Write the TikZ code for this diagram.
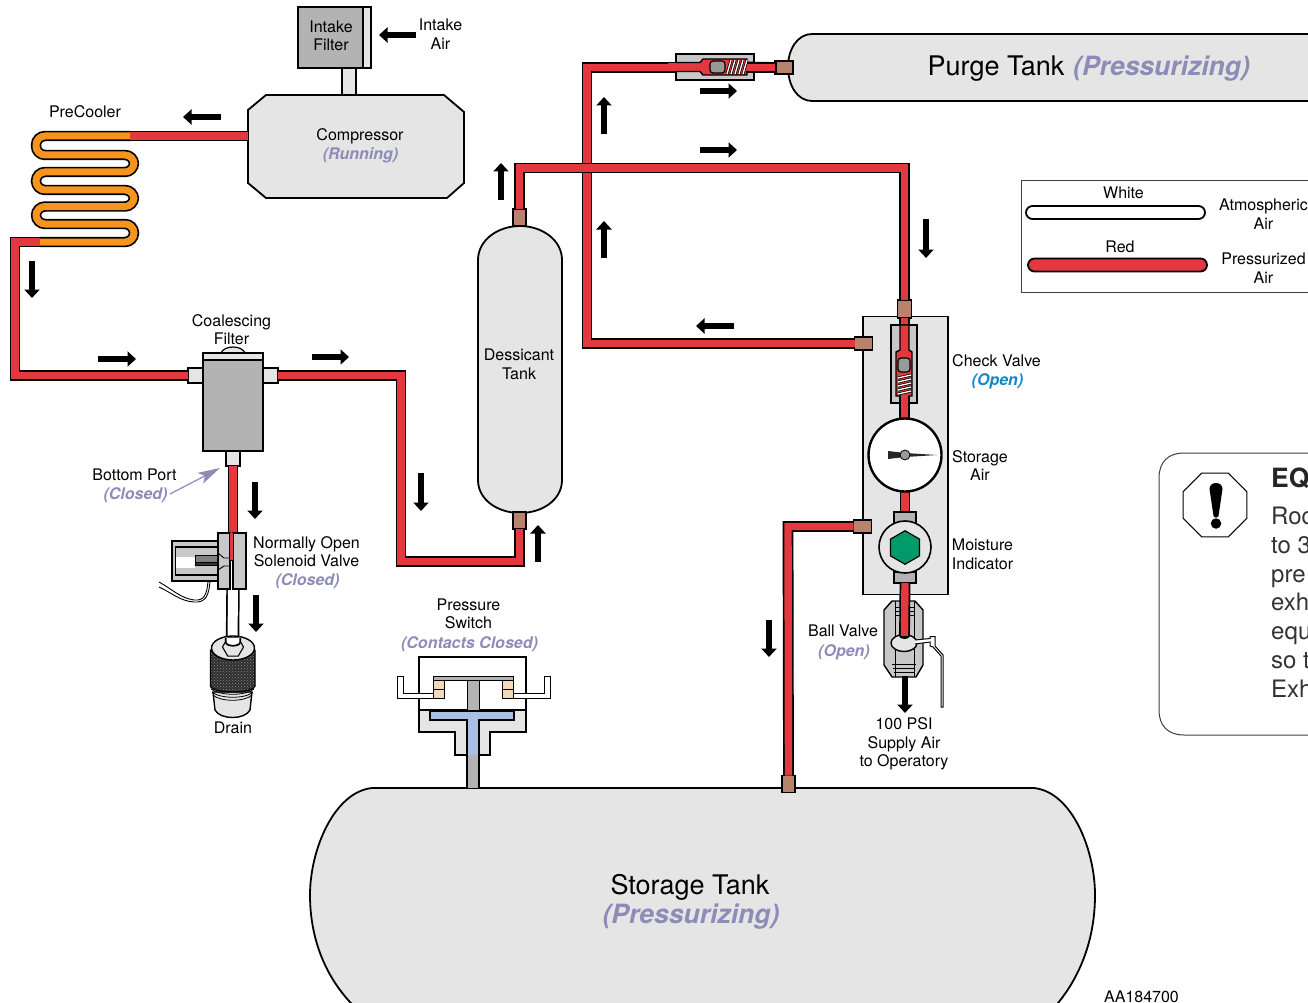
\documentclass[tikz,border=0pt]{standalone}
\usepackage{fontspec}
\setmainfont{TeX Gyre Heros}
\definecolor{PipeRed}{RGB}{228,56,64}
\definecolor{CoilOrange}{RGB}{247,148,29}
\definecolor{TankGray}{RGB}{229,229,229}
\definecolor{PartGray}{RGB}{179,179,179}
\definecolor{ValveGray}{RGB}{200,200,200}
\definecolor{FitBrown}{RGB}{184,131,108}
\definecolor{StateLav}{RGB}{141,139,184}
\definecolor{OpenBlue}{RGB}{20,135,200}
\definecolor{HexGreen}{RGB}{0,155,105}
\definecolor{SwitchBlue}{RGB}{170,192,226}
\definecolor{ContactTan}{RGB}{243,217,184}
\usetikzlibrary{
  shapes.geometric, shapes.misc,
  arrows.meta, patterns, calc
}

\begin{document}
\begin{tikzpicture}[
    x=1pt, y=-1pt,
    part/.style={rectangle, draw, line width=1.8pt, inner sep=0pt, outer sep=0pt},
    graybox/.style={part, fill=PartGray},
    lightbox/.style={part, fill=TankGray},
    fitting/.style={part, fill=FitBrown, line width=1.5pt},
    pipe/.style={draw=black, line width=1.7pt, double=PipeRed, double distance=7.4pt},
    coil/.style={draw=black, line width=1.7pt, double=CoilOrange, double distance=7pt, rounded corners=9pt},
    drainline/.style={draw=black, line width=1.7pt, double=white, double distance=10pt},
    outline/.style={draw, line width=1.8pt, line join=round},
    flowarr/.style={-{Triangle[length=8.5pt,width=15pt]}, line width=6.5pt, black},
    lbl/.style={font=\fontsize{16}{18.5}\selectfont, align=center, inner sep=0pt},
    statelbl/.style={lbl, font=\fontsize{16}{18.5}\selectfont\bfseries\itshape, text=StateLav},
    biglbl/.style={font=\fontsize{27}{30}\selectfont, inner sep=0pt},
    bigstate/.style={biglbl, font=\fontsize{26.5}{30}\selectfont\bfseries\itshape, text=StateLav},
    notelbl/.style={font=\fontsize{24}{29}\selectfont, text=black!80, inner sep=0pt, anchor=base west}
  ]
    \useasboundingbox (0,0) rectangle (1308,1003);

    % tanks
    \draw[outline,fill=TankGray] (1330,34) -- (812,34) .. controls (797,34) and (788,50) .. (788,67)
      .. controls (788,85) and (797,101) .. (812,101) -- (1330,101);
    \draw[outline,fill=TankGray] (372,788) -- (1034,788) .. controls (1072,792) and (1095,850) .. (1095,895)
      .. controls (1095,945) and (1076,985) .. (1050,1012) -- (360,1012)
      .. controls (330,985) and (310,945) .. (310,895) .. controls (310,850) and (334,792) .. (372,788) -- cycle;
    \draw[outline,fill=TankGray] (478,260) .. controls (478,240) and (498,226) .. (520,226)
      .. controls (542,226) and (562,240) .. (562,260) -- (562,480)
      .. controls (562,500) and (542,513) .. (520,513) .. controls (498,513) and (478,500) .. (478,480) -- cycle;

    % fittings
    \node[fitting, minimum width=13pt, minimum height=17pt] (desTop) at (519.5,217.5) {};
    \node[fitting, minimum width=13pt, minimum height=17pt] (desBot) at (519.5,520.5) {};
    \node[fitting, minimum width=18pt, minimum height=13pt] (purgeFit) at (784,67.5) {};
    \node[fitting, minimum width=13pt, minimum height=17pt] (storFit) at (788.5,784) {};

    % panel
    \node[lightbox, minimum width=85pt, minimum height=278pt] (panel) at (905.5,455.5) {};
    \node[fitting, minimum width=14pt, minimum height=18pt] (chkTop) at (904.5,309) {};
    \node[fitting, minimum width=18pt, minimum height=13pt] (chkSide) at (863.5,343.5) {};
    \node[fitting, minimum width=18pt, minimum height=13pt] (moistSide) at (862.5,526.5) {};

    % compressor, filter
    \node[graybox, minimum width=73pt, minimum height=61pt] (filter) at (334.5,37.5) {};
    \node[lightbox, minimum width=8pt, minimum height=61pt] (filterStrip) at (367,37.5) {};
    \node[lightbox, minimum width=14pt, minimum height=27pt] (filterNeck) at (349,81.5) {};
    \draw[outline,fill=TankGray,line join=miter] (266,95) -- (444,95) -- (464,112) -- (464,183) -- (447,198)
      -- (266,198) -- (248,183) -- (248,110) -- cycle;
    \coordinate (compOut) at (248,136);

    % precooler
    \coordinate (coilTop) at (130,136);
    \coordinate (coilEnd) at (40,242);
    \draw[coil] (coilTop) -- (36,136) -- (36,155) -- (134,155) -- (134,172) -- (36,172) -- (36,190)
      -- (134,190) -- (134,206.5) -- (36,206.5) -- (36,224) -- (134,224) -- (134,242) -- (coilEnd);

    % coalescing filter
    \node[graybox, minimum width=60pt, minimum height=98pt] (coal) at (233,402) {};
    \draw[outline,fill=TankGray,line width=1.2pt] (221,353) .. controls (224,345) and (242,345) .. (245,353);
    \node[lightbox, minimum width=60pt, minimum height=7pt] (coalCap) at (233,356.5) {};
    \node[lightbox, minimum width=15pt, minimum height=15pt] (coalL) at (195.5,375.5) {};
    \node[lightbox, minimum width=15pt, minimum height=15pt] (coalR) at (270.5,375.5) {};
    \node[lightbox, minimum width=14pt, minimum height=15pt] (coalB) at (233,458.5) {};

    % pipes
    \draw[pipe] (compOut) -- (coilTop);
    \draw[pipe] (coilEnd) -- ++(-25,0) |- (coalL.west);
    \draw[pipe] (coalR.east) -- ++(123,0) -- ++(0,186) -| (desBot.south);
    \draw[pipe] (chkSide.west) -- ++(-267.5,0) |- (purgeFit.west);
    \draw[pipe] (desTop.north) -- ++(0,-41) -| (chkTop.north);
    \draw[pipe] (moistSide.west) -- ++(-65.5,0) -- (storFit.north);

    % purge check valve
    \node[part, fill=ValveGray, minimum width=78pt, minimum height=26pt] (purgeChk) at (715,67) {};
    \draw[pipe] ($(purgeChk.west)+(-8,0)$) -- (700,67);
    \draw[pipe] (746,67) -- (purgeFit.west);
    \draw[draw=black, line width=1.4pt, fill=PipeRed] (676,62.5) -- (700,62.5) -- (703,59) -- (747,59)
      -- (747,75) -- (703,75) -- (700,71.5) -- (676,71.5);
    \draw[draw=black, line width=1.2pt, fill=PipeRed] (746,63) -- (776,63) -- (776,72) -- (746,72);
    \node[part, fill=black!40, rounded corners=3pt, line width=1.2pt, minimum width=15pt, minimum height=12pt] (purgePop) at (717.5,67) {};
    \foreach \sx in {729,733,...,745}{
      \draw[black, line width=2.8pt] (\sx-2,74) -- (\sx+2,60);
      \draw[white, line width=1.3pt] (\sx-2,74) -- (\sx+2,60);
    }

    % panel check valve
    \draw[pipe] (chkTop.south) -- (904.5,419);
    \node[part, fill=ValveGray, line width=1.4pt, minimum width=26pt, minimum height=78pt] (chk) at (904,364) {};
    \draw[draw=black, line width=1.4pt, fill=PipeRed] (900,325) -- (900,350) -- (896,352) -- (896,396) -- (912,396)
      -- (912,352) -- (909,350) -- (909,325) -- cycle;
    \draw[black, line width=1.4pt] (900,396) -- (900,418) (909,396) -- (909,418);
    \fill[PipeRed] (900.7,395) rectangle (908.3,418);
    \node[part, fill=black!40, rounded corners=3pt, line width=1.2pt, minimum width=12pt, minimum height=14pt] (chkPop) at (904,365) {};
    \foreach \sy in {376,380,...,392}{
      \draw[black, line width=2.8pt] (898,\sy+2) -- (911,\sy-1);
      \draw[white, line width=1.3pt] (898,\sy+2) -- (911,\sy-1);
    }

    % gauge and moisture indicator
    \coordinate (gaugeOut) at (905,490);
    \coordinate (moistIn) at (905,514);
    \draw[pipe] (gaugeOut) -- (moistIn);
    \node[circle, draw, line width=2.4pt, fill=white, minimum size=73pt, inner sep=0pt] (gauge) at (905,455) {};
    \fill[black!85] (888,451) -- (905,453) -- (937,455) -- (905,457) -- (888,459) -- cycle;
    \node[circle, draw, line width=0.8pt, fill=black!40, minimum size=10pt, inner sep=0pt] (gaugeHub) at (905,455) {};
    \node[graybox, line width=1.3pt, minimum width=22pt, minimum height=11pt] (moistTop) at (905,517.5) {};
    \node[graybox, line width=1.3pt, minimum width=22pt, minimum height=11pt] (moistBot) at (905,577.5) {};
    \node[circle, draw, line width=1.6pt, fill=TankGray, minimum size=52pt, inner sep=0pt] (moist) at (905,547) {};
    \node[regular polygon, regular polygon sides=6, draw, line width=1.2pt, fill=HexGreen, minimum size=33.5pt, inner sep=0pt, shape border rotate=30] (moistHex) at (905,547.5) {};

    % ball valve
    \draw[outline,fill=ValveGray,line width=1.4pt] (884,610) -- (892,601) -- (915,601) -- (923,610) -- (923,665)
      -- (916,677) -- (892,677) -- (884,665) -- cycle;
    \draw[line width=0.9pt] (895,601) -- (895,677) (914,601) -- (914,677)
      (895,607) -- (914,607) (895,611) -- (914,611) (895,615) -- (914,615)
      (892,664) -- (916,664) (893,668) -- (915,668) (894,672) -- (914,672);
    \node[ellipse, draw, line width=1.4pt, fill=TankGray, minimum width=26pt, minimum height=17pt, inner sep=0pt] (ball) at (904,643) {};
    \coordinate (ballIn) at (904.5,636);
    \draw[pipe] (moistBot.south) -- (ballIn);
    \fill[black] (899,636) arc[start angle=180, end angle=360, x radius=5.5, y radius=-3];
    \draw[draw=black, line width=1pt, fill=white] (915,640) -- (930,638.5) -- (930,636.5) -- (935,636.5) -- (935,646)
      -- (943,655) -- (943,707) -- (941,707) -- (941,656) -- (933,647) -- (930,646) -- (930,642) -- (915,644);

    % solenoid valve
    \node[coordinate] (solIn) at (233,533) {};
    \draw[pipe] (coalB.south) -- (solIn);
    \node[coordinate] (solOut) at (233,589) {};
    \node[coordinate] (drainIn) at (232.5,643) {};
    \draw[drainline] (solOut) -- (drainIn);
    \node[part, fill=ValveGray, line width=2.2pt, minimum width=48pt, minimum height=40pt] (solCoil) at (196,561) {};
    \node[part, fill=ValveGray, line width=1.2pt, minimum width=43pt, minimum height=28pt] (solInner) at (197,561) {};
    \node[part, fill=white, draw=none, minimum width=19pt, minimum height=11pt] (solCore) at (185,562) {};
    \node[part, fill=black!50, line width=1pt, minimum width=28pt, minimum height=7pt] (solPlunger) at (209,558.5) {};
    \node[part, fill=black!80, line width=1pt, minimum width=28pt, minimum height=3pt] (solPlungerB) at (209,564) {};
    \node[part, fill=ValveGray, line width=1.4pt, minimum width=12pt, minimum height=56pt] (solL) at (224,561) {};
    \node[part, fill=ValveGray, line width=1.4pt, minimum width=13pt, minimum height=56pt] (solR) at (239.5,561) {};
    \fill[white] (230.7,533) rectangle (232.3,589);
    \fill[PipeRed] (229,533) rectangle (233,561);
    \draw[black,line width=0.9pt] (229,533) -- (229,560) -- (233,560);
    \draw[black,line width=0.9pt] (218,553) -- (224,558) -- (229,558) (218,570) -- (224,566) -- (230.5,566) -- (230.5,589);
    \draw[line width=0.9pt] (159,582) .. controls (172,589) and (180,598) .. (194,600) .. controls (204,601) and (207,595) .. (208,581)
      (159,587) .. controls (172,593) and (180,601) .. (194,602) .. controls (206,603) and (209,595) .. (210,581);

    % drain
    \draw[outline,fill=TankGray,line width=1.4pt] (213,692) -- (215,710) .. controls (220,720) and (245,720) .. (250,710) -- (252,692) -- cycle;
    \draw[outline,line width=1.4pt,preaction={fill=black!82},pattern=crosshatch dots,pattern color=black!45]
      (210.5,650) -- (210.5,686) .. controls (212,694) and (254,694) .. (255,686) -- (255,650) -- cycle;
    \draw[line width=0.8pt] (211,689) .. controls (220,696) and (246,696) .. (254,689)
      (212,692) .. controls (220,699) and (246,699) .. (253,692)
      (213,695) .. controls (220,702) and (245,702) .. (252,695);
    \node[ellipse, draw, line width=1.4pt, fill=TankGray, minimum width=43pt, minimum height=24pt, inner sep=0pt] (drainTop) at (233,648) {};
    \node[regular polygon, regular polygon sides=6, draw, line width=1.1pt, fill=TankGray, minimum size=21pt, inner sep=0pt] (drainNut) at (233,647) {};
    \draw[line width=1.7pt,fill=white] (225.7,638) -- (225.7,642) .. controls (226,647) and (240,647) .. (240.3,642) -- (240.3,638);

    % pressure switch
    \node[part, fill=white, line width=1.5pt, minimum width=107pt, minimum height=53pt] (swBox) at (472.5,683.5) {};
    \draw[outline,fill=TankGray,line width=1.5pt,line join=miter] (419,710) -- (526,710) -- (526,732) -- (490,732)
      -- (490,755) -- (455,755) -- (455,732) -- (419,732) -- cycle;
    \draw[line width=1.5pt,fill=SwitchBlue] (467,755) -- (467,720) -- (430,720) -- (430,711) -- (514,711)
      -- (514,720) -- (479,720) -- (479,755);
    \node[coordinate] (swStemTop) at (473,755) {};
    \draw[draw=black, line width=1.7pt, double=PartGray, double distance=10.5pt] (swStemTop) -- (473,788);
    \node[part, fill=PartGray, line width=0.8pt, minimum width=12pt, minimum height=33pt] (swRod) at (473,693.5) {};
    \node[part, fill=PartGray, line width=0.8pt, minimum width=80pt, minimum height=4pt] (swBar) at (473,678) {};
    \foreach \nm/\cx in {L/438.5,R/507.5}{
      \node[part, fill=ContactTan, line width=1pt, minimum width=11pt, minimum height=9pt] (swA\nm) at (\cx,684.5) {};
      \node[part, fill=ContactTan, line width=1pt, minimum width=11pt, minimum height=9pt] (swB\nm) at (\cx,693.5) {};
    }
    \draw[line width=0.9pt,fill=white] (433,693) -- (403,693) -- (403,676) -- (397,676) -- (397,698) -- (433,698) -- cycle;
    \draw[line width=0.9pt,fill=white] (513,693) -- (544,693) -- (544,676) -- (550,676) -- (550,698) -- (513,698) -- cycle;

    % legend
    \draw[black!75,line width=1pt] (1330,181) -- (1021,181) -- (1021,292) -- (1330,292);
    \node[part, rounded rectangle, fill=white, minimum width=179pt, minimum height=13pt] (keyWhite) at (1115.5,212.5) {};
    \node[part, rounded rectangle, fill=PipeRed, minimum width=179pt, minimum height=13pt] (keyRed) at (1117.5,265) {};

    % note
    \draw[black!75,line width=1pt] (1330,453) -- (1184,453) .. controls (1168,453) and (1159,462) .. (1159,478)
      -- (1159,710) .. controls (1159,726) and (1168,735) .. (1184,735) -- (1330,735);
    \node[regular polygon, regular polygon sides=8, draw, line width=1pt, fill=white, minimum size=69pt, inner sep=0pt] (warnSign) at (1215,505) {};
    \fill[black] (1209.5,489) .. controls (1209.5,481) and (1222.5,481) .. (1222.5,489) -- (1218.5,516) .. controls (1218,518) and (1214,518) .. (1213.5,516) -- cycle;
    \node[circle, fill=black, minimum size=10.5pt, inner sep=0pt] (warnDot) at (1216,523.5) {};

    % flow arrows
    \foreach \nm/\xa/\ya/\xb/\yb in {
      a/416/35/379/35, b/221/117/183/117, c/32/261/32/298, d/98/359/136/359, e/312/357/349/357,
      f/255/482/255/519, g/256/595/256/632, h/421/473/421/511, i/538/562/538/525, j/501/200/501/163,
      k/604/134/604/97, l/604/258/604/221, m/700/91/737/91, n/700/150/737/150, o/926/219/926/258,
      p/734/326/696/326, q/769/620/769/657, r/905/676/905/713}{
      \coordinate (flow\nm A) at (\xa,\ya);
      \coordinate (flow\nm B) at (\xb,\yb);
      \draw[flowarr] (flow\nm A) -- (flow\nm B);
    }
    \node[coordinate] (bpStart) at (170,494) {};
    \node[coordinate] (bpTip) at (220,468) {};
    \draw[-{Stealth[length=22pt,width=12pt,inset=5pt]}, StateLav, line width=1.2pt] (bpStart) -- (bpTip);

    % labels
    \node[lbl] (lblFilter) at (331,36) {Intake\\Filter};
    \node[lbl] (lblAir) at (440.5,34) {Intake\\Air};
    \node[lbl] (lblCool) at (85,112) {PreCooler};
    \node[lbl] (lblComp) at (360,136.5) {Compressor};
    \node[statelbl] (lblRun) at (360.5,155.5) {(Running)};
    \node[lbl] (lblCoal) at (231.5,329.5) {Coalescing\\Filter};
    \node[lbl] (lblPort) at (134.5,475) {Bottom Port};
    \node[statelbl] (lblPortSt) at (135.5,495.5) {(Closed)};
    \node[lbl] (lblSol) at (306.5,551.5) {Normally Open\\Solenoid Valve};
    \node[statelbl] (lblSolSt) at (307.5,581.5) {(Closed)};
    \node[lbl] (lblDrain) at (233,728) {Drain};
    \node[lbl] (lblDes) at (519,364.5) {Dessicant\\Tank};
    \node[lbl] (lblSw) at (468.5,614) {Pressure\\Switch};
    \node[statelbl] (lblSwSt) at (469.5,644.5) {(Contacts Closed)};
    \node[lbl] (lblChk) at (996.5,361) {Check Valve};
    \node[statelbl, text=OpenBlue] (lblChkSt) at (997.5,381.5) {(Open)};
    \node[lbl] (lblStAir) at (980,465.5) {Storage\\Air};
    \node[lbl] (lblMoist) at (982.5,554.5) {Moisture\\Indicator};
    \node[lbl] (lblBall) at (843,631) {Ball Valve};
    \node[statelbl] (lblBallSt) at (844,652) {(Open)};
    \node[lbl] (lblSupply) at (904,744) {100 PSI\\Supply Air\\to Operatory};
    \node[biglbl, anchor=west] (lblPurge) at (927.5,69) {Purge Tank};
    \node[bigstate, anchor=west] (lblPurgeSt) at (1073,69) {(Pressurizing)};
    \node[biglbl] (lblStor) at (690,887) {Storage Tank};
    \node[bigstate] (lblStorSt) at (691,917) {(Pressurizing)};
    \node[lbl] (lblWhite) at (1123.5,192.5) {White};
    \node[lbl] (lblRed) at (1120,247) {Red};
    \node[lbl] (lblAtm) at (1263.5,214) {Atmospheric\\Air};
    \node[lbl] (lblPres) at (1263.5,268) {Pressurized\\Air};
    \node[lbl] (lblRef) at (1141.5,996.5) {AA184700};
    \node[notelbl, font=\fontsize{26.5}{30}\selectfont\bfseries, text=black!85, anchor=west] (noteHead) at (1271,478) {EQ};
    \node[notelbl] (noteA) at (1271,524.5) {Roc};
    \node[notelbl] (noteB) at (1271,553.3) {to 3};
    \node[notelbl] (noteC) at (1271,582.1) {pre};
    \node[notelbl] (noteD) at (1271,610.9) {exh};
    \node[notelbl] (noteE) at (1271,639.7) {equ};
    \node[notelbl] (noteF) at (1271,668.5) {so t};
    \node[notelbl] (noteG) at (1271,697.3) {Exh};
  \end{tikzpicture}
\end{document}
